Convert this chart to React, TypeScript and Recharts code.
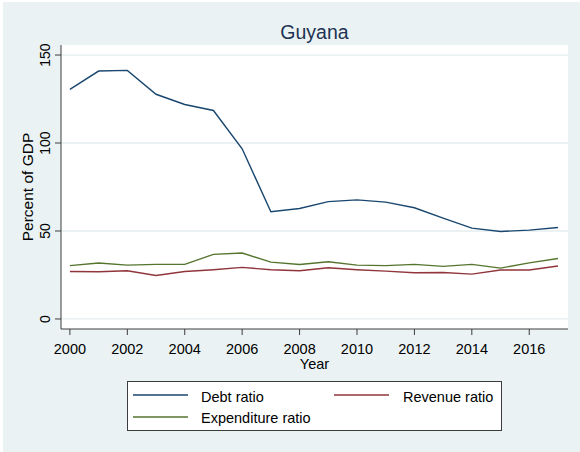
import { LineChart, Line, XAxis, YAxis, CartesianGrid, Legend, Label } from "recharts";

// 年次データ
const years = [2000, 2001, 2002, 2003, 2004, 2005, 2006, 2007, 2008, 2009, 2010, 2011, 2012, 2013, 2014, 2015, 2016, 2017];
const debtRatio = [130.5, 140.9, 141.3, 127.7, 121.9, 118.5, 96.7, 60.9, 62.8, 66.7, 67.7, 66.4, 63.2, 57.3, 51.6, 49.7, 50.5, 52.0];
const revenueRatio = [27.0, 26.8, 27.4, 24.7, 27.0, 28.0, 29.3, 28.0, 27.4, 29.1, 28.0, 27.2, 26.3, 26.4, 25.5, 27.8, 27.8, 30.1];
const expenditureRatio = [30.3, 31.8, 30.6, 31.0, 31.0, 36.7, 37.5, 32.3, 31.0, 32.5, 30.6, 30.3, 31.0, 29.9, 31.0, 28.9, 31.9, 34.4];
const xTicks = [2000, 2002, 2004, 2006, 2008, 2010, 2012, 2014, 2016];
const yTicks = [0, 50, 100, 150];

const SERIES = [
  { key: "debt", name: "Debt ratio", color: "#1a476f" },
  { key: "revenue", name: "Revenue ratio", color: "#90353b" },
  { key: "expenditure", name: "Expenditure ratio", color: "#55752f" },
];

const data = years.map((year, i) => ({
  year,
  debt: debtRatio[i],
  revenue: revenueRatio[i],
  expenditure: expenditureRatio[i],
}));

const FONT = '"Liberation Sans", Arial, sans-serif';
const AXIS = "#3c3c3c";

// 縦軸の目盛りは90度回転
const YTick = (props: any) => {
  const { x, y, payload } = props;
  return (
    <text x={x} y={y} transform={`rotate(-90, ${x}, ${y})`} textAnchor="middle" fontSize={14} fontFamily={FONT} fill="#000">
      {payload.value}
    </text>
  );
};

// 凡例（枠付き、2列）
const renderLegend = () => (
  <svg width={375} height={50} style={{ display: "block" }}>
    <rect x={0.5} y={0.5} width={374} height={49} fill="#fff" stroke={AXIS} strokeWidth={1} />
    <line x1={6} x2={61} y1={14} y2={14} stroke={SERIES[0].color} strokeWidth={1.4} />
    <text x={74} y={20.5} fontSize={14.5} fontFamily={FONT} fill="#000">{SERIES[0].name}</text>
    <line x1={207} x2={262} y1={14} y2={14} stroke={SERIES[1].color} strokeWidth={1.4} />
    <text x={276} y={20.5} fontSize={14.5} fontFamily={FONT} fill="#000">{SERIES[1].name}</text>
    <line x1={6} x2={61} y1={36} y2={36} stroke={SERIES[2].color} strokeWidth={1.4} />
    <text x={74} y={42} fontSize={14.5} fontFamily={FONT} fill="#000">{SERIES[2].name}</text>
  </svg>
);

export default function App() {
  return (
    <div style={{ position: "absolute", left: 0, top: 0, width: 580, height: 452, background: "#fff", fontFamily: FONT }}>
      <div style={{ position: "absolute", left: 3, top: 2, width: 577, height: 450, background: "#eaf2f3" }} />
      <div
        style={{
          position: "absolute", left: 61, top: 23, width: 507, textAlign: "center",
          fontSize: 19.5, lineHeight: "19.5px", color: "#1e3353", fontFamily: FONT,
        }}
      >
        Guyana
      </div>
      <div style={{ position: "absolute", left: 0, top: 0 }}>
        <LineChart width={580} height={452} data={data} margin={{ top: 45, right: 12, left: 0, bottom: 93 }}>
          <CartesianGrid vertical={false} horizontal stroke="#e6eef0" strokeWidth={1.3} fill="#fff" horizontalValues={yTicks} />
          <XAxis
            dataKey="year"
            type="number"
            domain={[1999.69, 2017.35]}
            allowDataOverflow
            ticks={xTicks}
            height={30}
            tickSize={6}
            tickMargin={9}
            stroke={AXIS}
            tick={{ fill: "#000", fontSize: 14.5, fontFamily: FONT }}
            interval={0}
          >
            <Label value="Year" position="bottom" offset={0} fill="#000" fontSize={14.5} fontFamily={FONT} />
          </XAxis>
          <YAxis
            type="number"
            domain={[-5.7, 155.7]}
            allowDataOverflow
            ticks={yTicks}
            width={61}
            tickSize={6}
            tickMargin={5}
            stroke={AXIS}
            tick={<YTick />}
            interval={0}
          >
            <Label
              content={(p: any) => {
                const vb = p.viewBox;
                const x = vb.x + 32.5;
                const y = vb.y + vb.height / 2;
                return (
                  <text x={x} y={y} transform={`rotate(-90, ${x}, ${y})`} textAnchor="middle" fontSize={15.5} fontFamily={FONT} fill="#000">
                    Percent of GDP
                  </text>
                );
              }}
            />
          </YAxis>
          {SERIES.map((s) => (
            <Line
              key={s.key}
              dataKey={s.key}
              name={s.name}
              stroke={s.color}
              strokeWidth={1.4}
              dot={false}
              activeDot={false}
              type="linear"
              isAnimationActive={false}
            />
          ))}
          <Legend
            content={renderLegend}
            layout="vertical"
            align="center"
            verticalAlign="middle"
            wrapperStyle={{ position: "absolute", left: 127, top: 381, width: 375, height: 50 }}
          />
        </LineChart>
      </div>
    </div>
  );
}
